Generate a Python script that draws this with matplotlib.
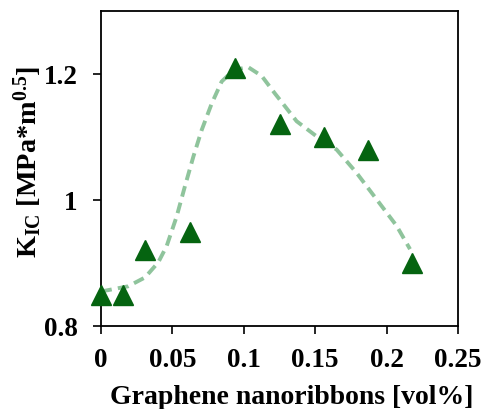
import matplotlib
matplotlib.use('Agg')
import matplotlib.pyplot as plt

plt.rcParams['font.family'] = 'Liberation Serif'
plt.rcParams['font.weight'] = 'bold'
plt.rcParams['mathtext.fontset'] = 'custom'
plt.rcParams['mathtext.rm'] = 'Liberation Serif:bold'
plt.rcParams['mathtext.bf'] = 'Liberation Serif:bold'
plt.rcParams['mathtext.it'] = 'Liberation Serif:bold'

# measured points
vol = [0, 0.0156, 0.031, 0.0625, 0.094, 0.125, 0.156, 0.187, 0.218]
k1c = [0.85, 0.85, 0.92, 0.95, 1.21, 1.12, 1.10, 1.08, 0.90]

# dashed trend line
fit_x = [0.0, 0.0028, 0.019, 0.0308, 0.0401, 0.046, 0.053, 0.0588, 0.0647, 0.0705,
         0.0775, 0.0845, 0.0927, 0.103, 0.1125, 0.1218, 0.1253, 0.137, 0.151,
         0.165, 0.179, 0.193, 0.207, 0.2164]
fit_y = [0.855, 0.856, 0.863, 0.877, 0.901, 0.927, 0.974, 1.022, 1.069, 1.111,
         1.153, 1.188, 1.206, 1.211, 1.197, 1.169, 1.159, 1.125, 1.101,
         1.080, 1.043, 1.001, 0.959, 0.922]

fig = plt.figure(figsize=(4.82, 4.10), dpi=100)
ax = fig.add_axes([101/482, 1-327/410, 357/482, 315/410])

ax.plot(fit_x, fit_y, color='#8fc49c', lw=2.8, dashes=(2.8, 1.6), zorder=2)
ax.plot(vol, k1c, '^', color='#056410', ms=14, zorder=3, clip_on=False)

ax.set_xlim(0, 0.25)
ax.set_ylim(0.8, 1.3)
ax.set_xticks([0, 0.05, 0.1, 0.15, 0.2, 0.25])
ax.set_xticklabels(['0', '0.05', '0.1', '0.15', '0.2', '0.25'])
ax.set_yticks([0.8, 1.0, 1.2])
ax.set_yticklabels(['0.8', '1', '1.2'])
ax.tick_params(direction='out', length=6, width=1.2, labelsize=19.5)
ax.tick_params(axis='y', pad=11)
ax.tick_params(axis='x', pad=9)
for s in ax.spines.values():
    s.set_linewidth(1.3)

ax.set_xlabel('Graphene nanoribbons [vol%]', fontsize=20, fontweight='bold', labelpad=9)
ax.set_ylabel(r'K$_{\mathrm{IC}}$ [MPa*m$^{\mathrm{0.5}}$]', fontsize=20.3, fontweight='bold', labelpad=0)
ax.xaxis.label.set_x(0.534)
ax.yaxis.label.set_y(0.524)

fig.savefig('out.png', dpi=100)
